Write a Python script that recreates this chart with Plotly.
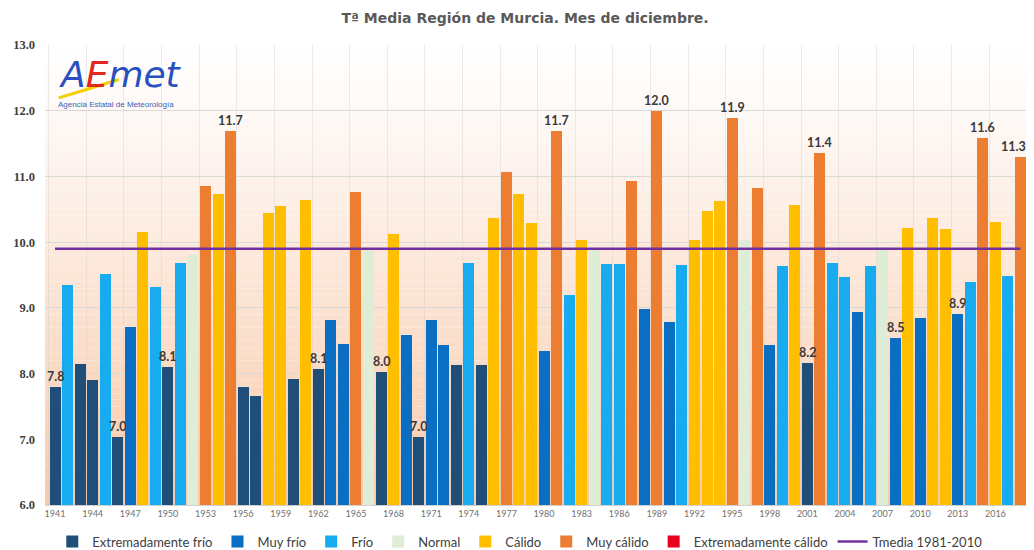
import plotly.graph_objects as go

# ---------------- data ----------------
years = list(range(1941, 2019))
temps = [7.80, 9.35, 8.15, 7.90, 9.52, 7.04, 8.71, 10.16, 9.31, 8.10,
         9.69, 9.80, 10.85, 10.74, 11.69, 7.80, 7.66, 10.44, 10.55, 7.92,
         10.64, 8.07, 8.81, 8.45, 10.77, 9.88, 8.03, 10.13, 8.59, 7.04,
         8.82, 8.43, 8.13, 9.69, 8.13, 10.36, 11.06, 10.73, 10.29, 8.34,
         11.69, 9.20, 10.04, 9.91, 9.66, 9.66, 10.93, 8.98, 12.00, 8.79,
         9.65, 10.04, 10.47, 10.62, 11.89, 10.04, 10.83, 8.44, 9.63, 10.57,
         8.16, 11.36, 9.69, 9.47, 8.94, 9.64, 9.93, 8.54, 10.22, 8.84,
         10.36, 10.20, 8.91, 9.39, 11.59, 10.30, 9.49, 11.30]
classes = ["EF", "F", "EF", "EF", "F", "EF", "MF", "C", "F", "EF",
           "F", "N", "MC", "C", "MC", "EF", "EF", "C", "C", "EF",
           "C", "EF", "MF", "MF", "MC", "N", "EF", "C", "MF", "EF",
           "MF", "MF", "EF", "F", "EF", "C", "MC", "C", "C", "MF",
           "MC", "F", "C", "N", "F", "F", "MC", "MF", "MC", "MF",
           "F", "C", "C", "C", "MC", "N", "MC", "MF", "F", "C",
           "EF", "MC", "F", "F", "MF", "F", "N", "MF", "C", "MF",
           "C", "C", "MF", "F", "MC", "C", "F", "MC"]
class_codes = ["EF", "MF", "F", "N", "C", "MC", "EC"]
class_names = ["Extremadamente frío", "Muy frío", "Frío", "Normal",
               "Cálido", "Muy cálido", "Extremadamente cálido"]
labelled_years = [1941, 1946, 1950, 1955, 1962, 1967, 1970, 1981, 1989,
                  1995, 2001, 2002, 2008, 2013, 2015, 2018]
tmedia_value = 9.9
tmedia_name = "Tmedia 1981-2010"
tick_years = list(range(1941, 2017, 3))
y_ticks = [6, 7, 8, 9, 10, 11, 12, 13]

# ---------------- styles ----------------
class_colors = {"EF": "#1f4e79", "MF": "#0a6fc2", "F": "#18abf0",
                "N": "#deedd6", "C": "#ffbf00", "MC": "#ed7d31", "EC": "#e8001c"}
FONT = "Lato, 'Liberation Sans', sans-serif"
FIG_W, FIG_H = 1026, 542

fig = go.Figure()

# gradient background of the plot area (white -> peach)
n_strips = 70
top_rgb = (255, 255, 255)
bot_rgb = (248, 200, 168)
for i in range(n_strips):
    f = (i + 0.5) / n_strips
    f2 = f ** 1.15
    r = [round(top_rgb[k] + (bot_rgb[k] - top_rgb[k]) * f2) for k in range(3)]
    fig.add_shape(type="rect", xref="paper", yref="paper",
                  x0=0, x1=1, y0=1 - (i + 1) / n_strips, y1=1 - i / n_strips,
                  fillcolor=f"rgb({r[0]},{r[1]},{r[2]})", line_width=0, layer="below")

for code, name in zip(class_codes, class_names):
    xs = [y for y, c in zip(years, classes) if c == code]
    ys = [t for t, c in zip(temps, classes) if c == code]
    if not xs:
        xs, ys = [None], [None]
    fig.add_trace(go.Bar(
        x=xs, y=ys, name=name,
        marker=dict(color=class_colors[code], line_width=0),
        width=0.88,
    ))

fig.add_trace(go.Scatter(
    x=years, y=[tmedia_value] * len(years), mode="lines", name=tmedia_name,
    line=dict(color="#7030a0", width=2.5),
))

# value labels above selected bars
for y, t in zip(years, temps):
    if y in labelled_years:
        fig.add_annotation(x=y, y=t, xref="x", yref="y", text=f"{t:.1f}",
                           showarrow=False, yanchor="bottom", yshift=1,
                           xshift=-7 if y == years[-1] else 0,
                           font=dict(family=FONT, size=12.5, color="#3a3a3a", weight="bold"))

# figure is offset by the page's 8px body margin, so compensate here
fig.update_layout(
    width=FIG_W, height=FIG_H,
    margin=dict(l=37, r=6, t=37, b=45, autoexpand=False),
    paper_bgcolor="white", plot_bgcolor="white",
    barmode="overlay", bargap=0,
    title=dict(text="Tª Media Región de Murcia. Mes de diciembre.",
               x=0.504, xanchor="center", y=1 - 10 / FIG_H, yanchor="middle",
               font=dict(family="DejaVu Sans", size=14, color="#595959", weight="bold")),
    showlegend=True,
    legend=dict(orientation="h", x=0.483, xanchor="center", y=-0.0467, yanchor="top",
                font=dict(family=FONT, size=13, color="#404040"),
                bgcolor="rgba(0,0,0,0)", itemwidth=30, traceorder="normal",
                borderwidth=0, tracegroupgap=0),
)

fig.update_xaxes(range=[1940.2, 2018.6], tickmode="array", tickvals=tick_years,
                 ticktext=[str(y) for y in tick_years], showgrid=False,
                 tickfont=dict(family=FONT, size=9, color="#707070"),
                 showline=True, linecolor="#d0d0d0", ticks="",
                 minor=dict(tick0=1940.5, dtick=3, showgrid=True,
                            gridcolor="rgba(200,200,200,0.35)", gridwidth=1),
                 zeroline=False, automargin=False)
fig.update_yaxes(range=[6, 13], tickmode="array", tickvals=y_ticks,
                 ticktext=[f"{v:.1f}" for v in y_ticks],
                 showgrid=True, gridcolor="#d9d9d9", gridwidth=1,
                 tickfont=dict(family="Liberation Serif", size=12.5, color="#404040", weight="bold"),
                 zeroline=False, ticks="", ticklabelstandoff=9, automargin=False)

# AEMET logo (text + yellow swoosh)
fig.add_shape(type="path", xref="paper", yref="paper",
              path="M 0.014 0.885 Q 0.045 0.905 0.075 0.925",
              line=dict(color="#f5d000", width=3), layer="above")
fig.add_annotation(xref="paper", yref="paper", x=0.012, y=0.985, xanchor="left", yanchor="top",
                   text="<i><span style='color:#2a4fc0'>A</span><span style='color:#e0281e'>E</span>"
                        "<span style='color:#2a4fc0'>met</span></i>",
                   showarrow=False, font=dict(family="DejaVu Sans", size=36))
fig.add_annotation(xref="paper", yref="paper", x=0.011, y=0.885, xanchor="left", yanchor="top",
                   text="Agencia Estatal de Meteorología", showarrow=False,
                   font=dict(family="Liberation Sans", size=8, color="#3a5fb8"))

fig.write_html("out.html")
